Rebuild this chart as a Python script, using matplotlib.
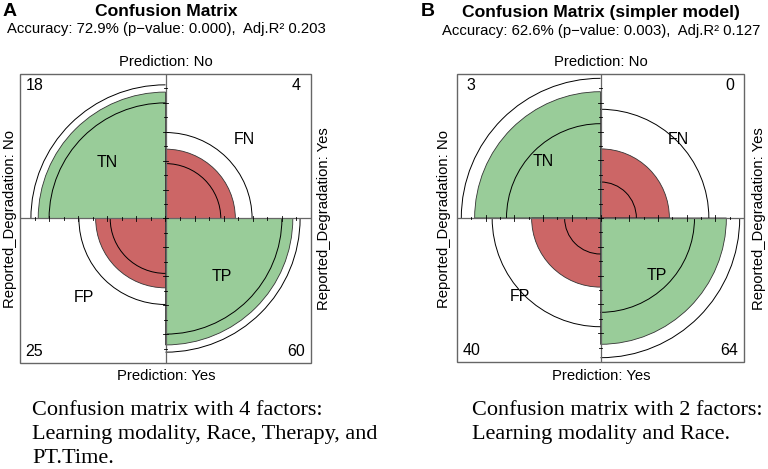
import numpy as np
import matplotlib.pyplot as plt
from matplotlib.patches import Wedge, Arc, Rectangle

W, H = 768, 469

# quadrant order: top-left, top-right, bottom-left, bottom-right
cells = ["TN", "FN", "FP", "TP"]
angles = [(90, 180), (0, 90), (180, 270), (270, 360)]
colors = ["#99CC99", "#CC6666", "#CC6666", "#99CC99"]

# panel A (4 factors)
counts_a = [18, 4, 25, 60]
fill_a = [0.875, 0.48, 0.48, 0.875]
lower_a = [0.80, 0.38, 0.38, 0.80]
upper_a = [0.925, 0.595, 0.595, 0.925]

# panel B (2 factors)
counts_b = [3, 0, 40, 64]
fill_b = [0.877, 0.48, 0.48, 0.877]
lower_b = [0.655, 0.25, 0.25, 0.655]
upper_b = [0.97, 0.755, 0.755, 0.97]

caption_a = ["Confusion matrix with 4 factors:",
             "Learning modality, Race, Therapy, and",
             "PT.Time."]
caption_b = ["Confusion matrix with 2 factors:",
             "Learning modality and Race."]

SANS = "Liberation Sans"
SERIF = "Liberation Serif"


def ftext(fig, x, y, s, **kw):
    """text placed in figure pixel coords (y from top)"""
    kw.setdefault("family", SANS)
    fig.text(x / W, 1 - y / H, s, **kw)


def fourfold(ax, counts, fill, lower, upper):
    ax.set_xlim(-1, 1)
    ax.set_ylim(-1, 1)
    ax.axis("off")
    for (t1, t2), c, r in zip(angles, colors, fill):
        ax.add_patch(Wedge((0, 0), r, t1, t2, facecolor=c,
                           edgecolor="#333333", linewidth=0.6))
    for (t1, t2), r1, r2 in zip(angles, lower, upper):
        for r in (r1, r2):
            ax.add_patch(Arc((0, 0), 2 * r, 2 * r, theta1=t1, theta2=t2,
                             color="black", linewidth=0.7))
    # axes through the middle + box
    ax.plot([-1, 1], [0, 0], color="#666666", linewidth=0.9)
    ax.plot([0, 0], [-1, 1], color="#666666", linewidth=0.9)
    ax.add_patch(Rectangle((-1, -1), 2, 2, fill=False, edgecolor="#666666",
                           linewidth=1.0, clip_on=False))
    for v in np.arange(-0.8, 0.81, 0.2):
        ax.plot([v, v], [-0.02, 0.02], color="black", linewidth=0.6)
        ax.plot([-0.02, 0.02], [v, v], color="black", linewidth=0.6)
    for v in np.arange(-0.9, 0.91, 0.2):
        ax.plot([v, v], [-0.01, 0.01], color="black", linewidth=0.6)
        ax.plot([-0.01, 0.01], [v, v], color="black", linewidth=0.6)
    # quadrant labels
    for name, (x, y) in zip(cells, [(-0.40, 0.39), (0.545, 0.545),
                                    (-0.56, -0.545), (0.39, -0.40)]):
        ax.text(x, y, name, ha="center", va="center", fontsize=11.5, family=SANS)
    # counts in the corners
    for n, (x, y) in zip(counts, [(-0.90, 0.92), (0.90, 0.92),
                                  (-0.90, -0.92), (0.90, -0.92)]):
        ax.text(x, y, str(n), ha="center", va="center", fontsize=11.5, family=SANS)


fig = plt.figure(figsize=(W / 100, H / 100), dpi=100)

ax_a = fig.add_axes([20 / W, (H - 363) / H, 291 / W, 289 / H])
fourfold(ax_a, counts_a, fill_a, lower_a, upper_a)
ax_b = fig.add_axes([457 / W, (H - 362) / H, 287 / W, 288 / H])
fourfold(ax_b, counts_b, fill_b, lower_b, upper_b)

lab = dict(fontsize=10.7, ha="center", va="center")
for cx, lx, rx in [(166, 10, 324), (601, 444, 759)]:
    ftext(fig, cx, 62, "Prediction: No", **lab)
    ftext(fig, cx, 376, "Prediction: Yes", **lab)
    ftext(fig, lx, 219, "Reported_Degradation: No", rotation=90, **lab)
    ftext(fig, rx, 219, "Reported_Degradation: Yes", rotation=90, **lab)

# titles
ftext(fig, 10, 12, "A", fontsize=14, weight="bold", ha="center", va="center")
ftext(fig, 166, 11, "Confusion Matrix", fontsize=12.6, weight="bold",
      ha="center", va="center")
ftext(fig, 166, 29, "Accuracy: 72.9% (p\u2212value: 0.000),  Adj.R\u00b2 0.203",
      fontsize=10.75, ha="center", va="center")
ftext(fig, 428, 12, "B", fontsize=14, weight="bold", ha="center", va="center")
ftext(fig, 601, 12, "Confusion Matrix (simpler model)", fontsize=12.6,
      weight="bold", ha="center", va="center")
ftext(fig, 601, 31, "Accuracy: 62.6% (p\u2212value: 0.003),  Adj.R\u00b2 0.127",
      fontsize=10.75, ha="center", va="center")

# captions under the panels, one line at a time
cap = dict(fontsize=16, family=SERIF, ha="left", va="baseline")
for i, line in enumerate(caption_a):
    ftext(fig, 32, 415 + 24 * i, line, **cap)
for i, line in enumerate(caption_b):
    ftext(fig, 472, 415 + 24 * i, line, **cap)

fig.savefig("out.png", dpi=100)
